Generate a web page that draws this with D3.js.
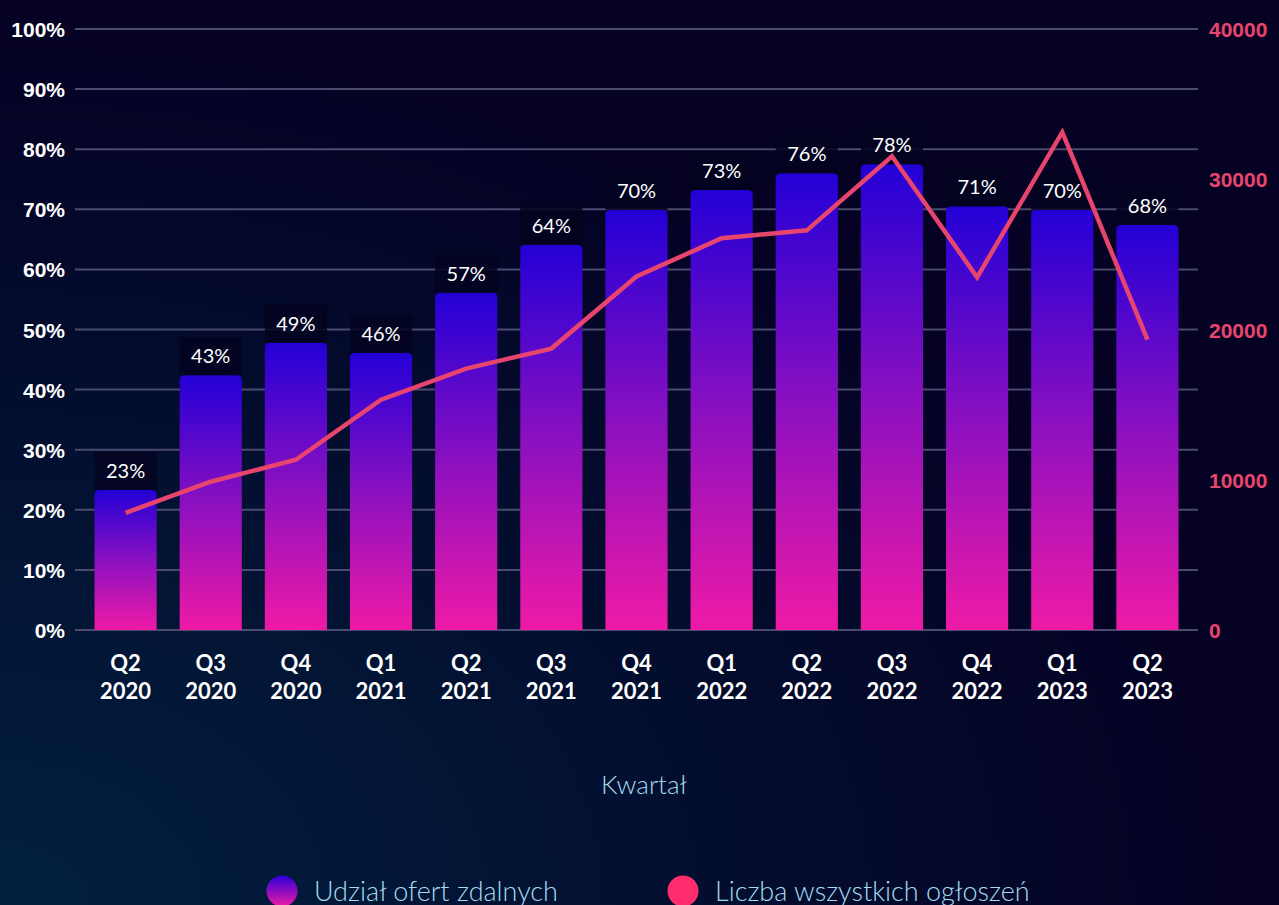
<!DOCTYPE html>
<html lang="pl">
  <head>
    <meta charset="utf-8" />
    <title>Udział ofert zdalnych</title>
    <script src="https://d3js.org/d3.v7.min.js"></script>
    <style>
      html, body { margin: 0; padding: 0; background: #040428; overflow: hidden; }
      svg { display: block; font-family: Lato, "Noto Sans", sans-serif; }
    </style>
  </head>
  <body>
    <div id="chart"></div>
    <script>
      // dane
      const quarters = ["Q2", "Q3", "Q4", "Q1", "Q2", "Q3", "Q4", "Q1", "Q2", "Q3", "Q4", "Q1", "Q2"];
      const years = ["2020", "2020", "2020", "2021", "2021", "2021", "2021", "2022", "2022", "2022", "2022", "2023", "2023"];
      const remoteShare = [23.3, 42.4, 47.8, 46.1, 56.1, 64.1, 69.9, 73.2, 76.0, 77.5, 70.5, 69.9, 67.4];
      const shareLabels = ["23%", "43%", "49%", "46%", "57%", "64%", "70%", "73%", "76%", "78%", "71%", "70%", "68%"];
      const totalAds = [7800, 9870, 11330, 15330, 17400, 18730, 23530, 26070, 26600, 31530, 23470, 33130, 19330];
      const leftTicks = [0, 10, 20, 30, 40, 50, 60, 70, 80, 90, 100];
      const rightTicks = [0, 10000, 20000, 30000, 40000];

      const width = 1279;
      const height = 905;
      const plot = { left: 75, right: 1198, top: 29, bottom: 630 };

      const svg = d3.select("#chart")
        .append("svg")
        .attr("width", width)
        .attr("height", height);

      const defs = svg.append("defs");

      const bg = defs.append("radialGradient")
        .attr("id", "bg")
        .attr("cx", "0%").attr("cy", "100%").attr("r", "95%");
      bg.append("stop").attr("offset", "0%").attr("stop-color", "#02203f");
      bg.append("stop").attr("offset", "55%").attr("stop-color", "#030f30");
      bg.append("stop").attr("offset", "100%").attr("stop-color", "#050224");

      const barGrad = defs.append("linearGradient")
        .attr("id", "barGrad")
        .attr("x1", 0).attr("y1", 0).attr("x2", 0).attr("y2", 1);
      barGrad.append("stop").attr("offset", "0%").attr("stop-color", "#2300d6");
      barGrad.append("stop").attr("offset", "50%").attr("stop-color", "#8a10c0");
      barGrad.append("stop").attr("offset", "100%").attr("stop-color", "#ef1aa6");

      svg.append("rect")
        .attr("width", width)
        .attr("height", height)
        .attr("fill", "url(#bg)");

      const x = d3.scaleBand()
        .domain(d3.range(quarters.length))
        .range([83, 1190])
        .paddingInner(0.27)
        .paddingOuter(0.135);

      const yLeft = d3.scaleLinear().domain([0, 100]).range([plot.bottom, plot.top]);
      const yRight = d3.scaleLinear().domain([0, 40000]).range([plot.bottom, plot.top]);

      // linie siatki
      svg.append("g")
        .selectAll("line")
        .data(leftTicks)
        .join("line")
        .attr("x1", plot.left)
        .attr("x2", plot.right)
        .attr("y1", (d) => yLeft(d))
        .attr("y2", (d) => yLeft(d))
        .attr("stroke", "#4a4b6e")
        .attr("stroke-width", 2);

      // lewa oś
      const leftAxis = svg.append("g")
        .attr("transform", `translate(${plot.left - 10},0)`)
        .call(d3.axisLeft(yLeft).tickValues(leftTicks).tickSize(0).tickPadding(0).tickFormat((d) => d + "%"));
      leftAxis.select(".domain").remove();
      leftAxis.selectAll("text")
        .attr("fill", "#ffffff")
        .style("font-size", "21px")
        .style("font-weight", "bold")
        .attr("dy", "0.36em");

      // prawa oś
      const rightAxis = svg.append("g")
        .attr("transform", `translate(${plot.right + 11},0)`)
        .call(d3.axisRight(yRight).tickValues(rightTicks).tickSize(0).tickPadding(0).tickFormat(d3.format("d")));
      rightAxis.select(".domain").remove();
      rightAxis.selectAll("text")
        .attr("fill", "#e8456e")
        .style("font-size", "21px")
        .style("font-weight", "bold")
        .attr("dy", "0.36em");

      // słupki
      const bw = x.bandwidth();
      const r = 5;
      const barPath = (i) => {
        const x0 = x(i), x1 = x(i) + bw;
        const y0 = yLeft(remoteShare[i]), y1 = yLeft(0);
        return `M${x0},${y1}V${y0 + r}Q${x0},${y0} ${x0 + r},${y0}H${x1 - r}Q${x1},${y0} ${x1},${y0 + r}V${y1}Z`;
      };

      svg.append("g")
        .selectAll("path")
        .data(d3.range(quarters.length))
        .join("path")
        .attr("d", barPath)
        .attr("fill", "url(#barGrad)");

      // tła etykiet
      svg.append("g")
        .selectAll("rect")
        .data(d3.range(quarters.length))
        .join("rect")
        .attr("x", (i) => x(i))
        .attr("y", (i) => yLeft(remoteShare[i]) - 38)
        .attr("width", bw)
        .attr("height", 38)
        .attr("fill", "#040420")
        .attr("opacity", 0.85);

      // linia liczby ogłoszeń
      const line = d3.line()
        .x((d, i) => x(i) + bw / 2)
        .y((d) => yRight(d));

      svg.append("path")
        .datum(totalAds)
        .attr("d", line)
        .attr("fill", "none")
        .attr("stroke", "#e8456e")
        .attr("stroke-width", 4.5)
        .attr("stroke-linejoin", "miter");

      // etykiety wartości
      svg.append("g")
        .selectAll("text")
        .data(d3.range(quarters.length))
        .join("text")
        .attr("x", (i) => x(i) + bw / 2)
        .attr("y", (i) => yLeft(remoteShare[i]) - 12)
        .attr("text-anchor", "middle")
        .attr("fill", "#ffffff")
        .style("font-size", "20px")
        .text((i) => shareLabels[i]);

      // oś X
      const xl = svg.append("g")
        .selectAll("text")
        .data(d3.range(quarters.length))
        .join("text")
        .attr("x", (i) => x(i) + bw / 2)
        .attr("text-anchor", "middle")
        .attr("fill", "#ffffff")
        .style("font-size", "22px")
        .style("font-weight", "bold");
      xl.append("tspan").attr("x", (i) => x(i) + bw / 2).attr("y", 671).text((i) => quarters[i]);
      xl.append("tspan").attr("x", (i) => x(i) + bw / 2).attr("y", 699).text((i) => years[i]);

      svg.append("text")
        .attr("x", 644)
        .attr("y", 794)
        .attr("text-anchor", "middle")
        .attr("fill", "#a5dcef")
        .style("font-size", "26px")
        .style("font-weight", 300)
        .text("Kwartał");

      // legenda
      const legendGrad = defs.append("linearGradient")
        .attr("id", "legendGrad")
        .attr("x1", 0).attr("y1", 0).attr("x2", 0).attr("y2", 1);
      legendGrad.append("stop").attr("offset", "0%").attr("stop-color", "#2a00d8");
      legendGrad.append("stop").attr("offset", "100%").attr("stop-color", "#ee1aa6");

      const legend = [
        { label: "Udział ofert zdalnych", fill: "url(#legendGrad)", x: 282 },
        { label: "Liczba wszystkich ogłoszeń", fill: "#ff2d6e", x: 683 },
      ];
      const lg = svg.append("g").selectAll("g").data(legend).join("g");
      lg.append("circle")
        .attr("cx", (d) => d.x)
        .attr("cy", 891)
        .attr("r", 15.5)
        .attr("fill", (d) => d.fill);
      lg.append("text")
        .attr("x", (d) => d.x + 32)
        .attr("y", 901)
        .attr("fill", "#a5dcef")
        .style("font-size", "27px")
        .style("font-weight", 300)
        .text((d) => d.label);
    </script>
  </body>
</html>
